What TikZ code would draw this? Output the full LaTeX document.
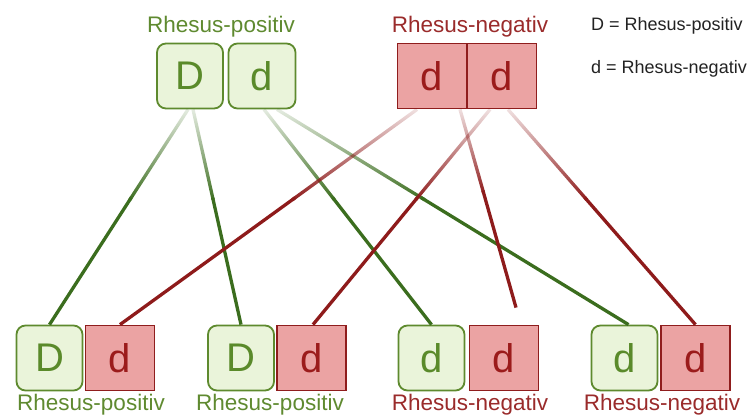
\documentclass[tikz,border=0pt]{standalone}
\usepackage{fontspec}
\setmainfont{Liberation Sans}
\usetikzlibrary{fadings,calc}
\definecolor{gstroke}{HTML}{5E8A2E}
\definecolor{gfill}{HTML}{EAF4DA}
\definecolor{gtext}{HTML}{5A8A2A}
\definecolor{glab}{HTML}{5F8A30}
\definecolor{gline}{HTML}{3B6D1E}
\definecolor{rstroke}{HTML}{8F1D1D}
\definecolor{rfill}{HTML}{EBA3A3}
\definecolor{rtext}{HTML}{9B1B1B}
\definecolor{rlab}{HTML}{9A2B2B}
\definecolor{rline}{HTML}{8E1B1B}
\definecolor{legtext}{HTML}{222222}
\tikzfading[name=fadeup, top color=transparent!88, bottom color=transparent!0]
\tikzset{
  gbox/.style={draw=gstroke, fill=gfill, rounded corners=9pt, line width=1.8pt,
    minimum width=66pt, minimum height=65pt, inner sep=0pt, text=gtext,
    font=\fontsize{40}{40}\selectfont},
  rbox/.style={draw=rstroke, fill=rfill, line width=1.8pt,
    minimum width=69pt, minimum height=65pt, inner sep=0pt, text=rtext,
    font=\fontsize{40}{40}\selectfont},
  glabel/.style={text=glab, inner sep=0pt, font=\fontsize{22.5}{22.5}\selectfont},
  rlabel/.style={text=rlab, inner sep=0pt, font=\fontsize{22.5}{22.5}\selectfont},
  legend/.style={text=legtext, inner sep=0pt, font=\fontsize{18}{18}\selectfont},
  gconn/.style={draw=gline, line width=3.3pt},
  rconn/.style={draw=rline, line width=3.3pt},
}
% #1 style, #2 start, #3 end: faded first part, solid rest
\newcommand{\fadedline}[3]{%
  \draw[#1, path fading=fadeup] #2 -- ($#2!0.42!#3$);
  \draw[#1] ($#2!0.41!#3$) -- #3;}
\begin{document}
\begin{tikzpicture}[x=1pt,y=-1pt]
\useasboundingbox (0,0) rectangle (755,415);
% top parents
\node[gbox] (tD) at (190,76) {D};
\node[gbox, minimum width=67pt] (td) at (262,76) {d};
\node[rbox] (tr1) at (432,76) {d};
\node[rbox] (tr2) at (502,76) {d};
\node[glabel, anchor=base] (lp) at (221,32) {Rhesus-positiv};
\node[rlabel, anchor=base] (ln) at (470,32) {Rhesus-negativ};
% legend
\node[legend, anchor=base west] (k1) at (591,30) {D = Rhesus-positiv};
\node[legend, anchor=base west] (k2) at (591,73) {d = Rhesus-negativ};
% children
\node[gbox] (b1g) at (49.5,358) {D};
\node[rbox] (b1r) at (120,358) {d};
\node[gbox] (b2g) at (241,358) {D};
\node[rbox] (b2r) at (311.5,358) {d};
\node[gbox] (b3g) at (431.5,358) {d};
\node[rbox] (b3r) at (504,358) {d};
\node[gbox] (b4g) at (624.5,358) {d};
\node[rbox] (b4r) at (695.5,358) {d};
\node[glabel, anchor=base] (l1) at (91,410) {Rhesus-positiv};
\node[glabel, anchor=base] (l2) at (270,410) {Rhesus-positiv};
\node[rlabel, anchor=base] (l3) at (470,410) {Rhesus-negativ};
\node[rlabel, anchor=base] (l4) at (662,410) {Rhesus-negativ};
% connectors
\coordinate (free) at ([xshift=12pt,yshift=17pt]b3r.north);
\fadedline{gconn}{([xshift=-2pt]tD.south)}{(b1g.north)}
\fadedline{gconn}{([xshift=3pt]tD.south)}{(b2g.north)}
\fadedline{gconn}{([xshift=2pt]td.south)}{(b3g.north)}
\fadedline{gconn}{([xshift=15pt]td.south)}{([xshift=4pt]b4g.north)}
\fadedline{rconn}{([xshift=-15pt]tr1.south)}{(b1r.north)}
\fadedline{rconn}{([xshift=28pt]tr1.south)}{(free)}
\fadedline{rconn}{([xshift=-12pt]tr2.south)}{([xshift=1.5pt]b2r.north)}
\fadedline{rconn}{([xshift=6pt]tr2.south)}{(b4r.north)}
\end{tikzpicture}
\end{document}
